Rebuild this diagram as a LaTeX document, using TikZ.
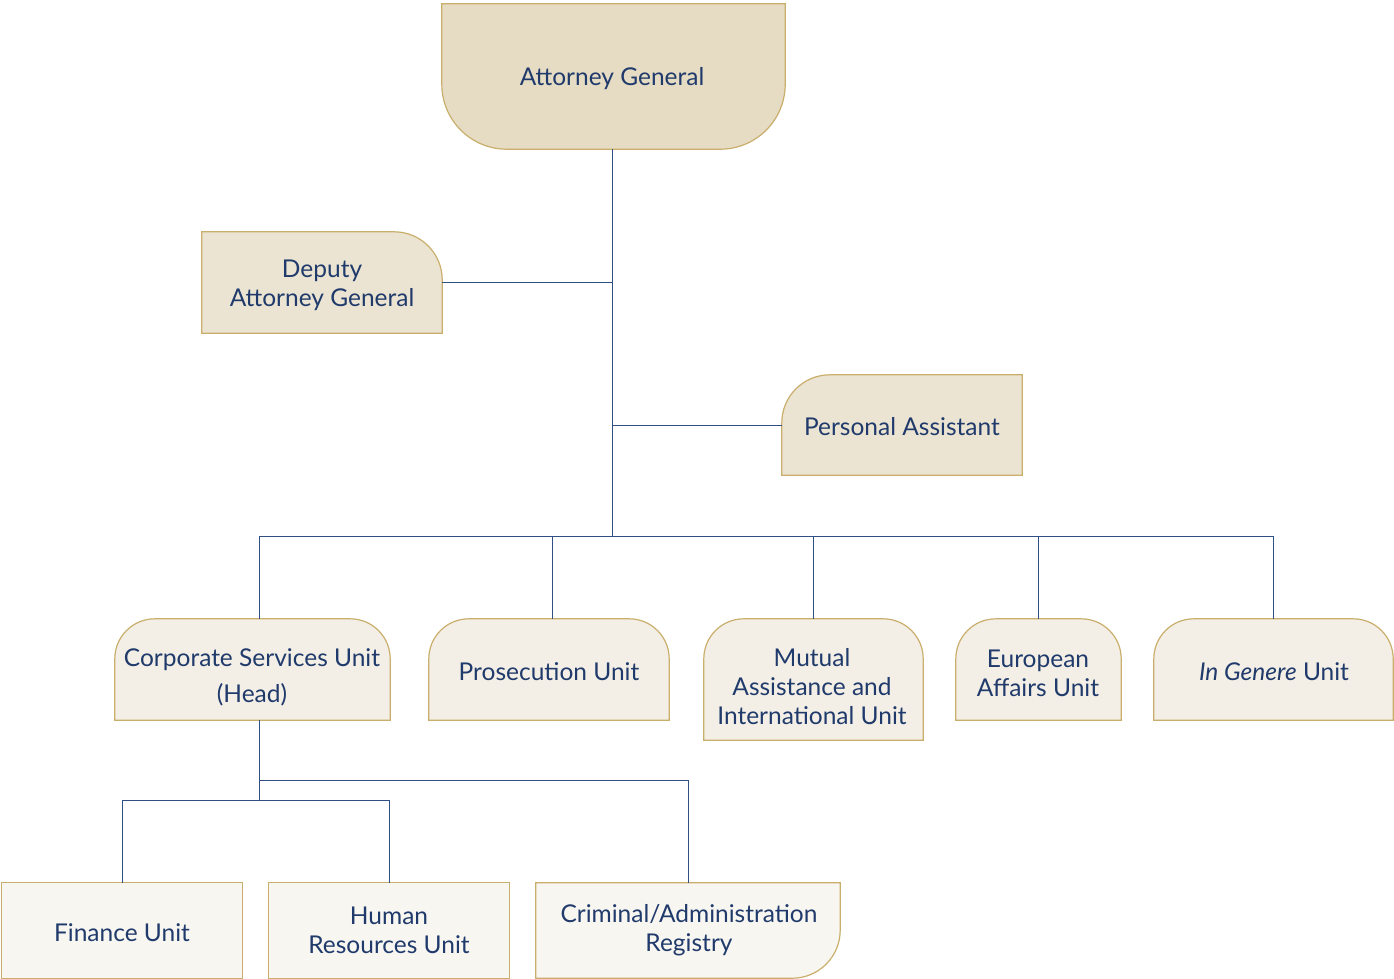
\documentclass[tikz,border=0pt]{standalone}
\usepackage{fontspec}
\setmainfont{Lato}
\usetikzlibrary{backgrounds}
\definecolor{agfill}{HTML}{E6DCC4}
\definecolor{secfill}{HTML}{ECE4D3}
\definecolor{unitfill}{HTML}{F3EFE6}
\definecolor{subfill}{HTML}{F8F6F1}
\definecolor{gold}{HTML}{C9AE6C}
\definecolor{navy}{HTML}{1F3A6B}
\definecolor{wire}{HTML}{2F4F85}
\tikzset{
  box/.style={inner sep=0pt, align=center, text=navy, font=\fontsize{24.5}{29}\selectfont},
  outline/.style={draw=gold, line width=1.2pt},
  wireline/.style={draw=wire, line width=1pt},
  lbl/.style={text=navy, align=center, font=\fontsize{24.5}{29}\selectfont, inner sep=0pt}
}
\begin{document}
\begin{tikzpicture}[x=1pt,y=1pt]
\useasboundingbox (0,0) rectangle (1394,-978);
% nodes (frames)
\node[inner sep=0pt, minimum width=343pt, minimum height=145pt] (ag) at (613.5,-76.5) {};
\node[inner sep=0pt, minimum width=240pt, minimum height=101pt] (dep) at (322,-282.5) {};
\node[inner sep=0pt, minimum width=240pt, minimum height=100pt] (pa) at (902,-425) {};
\node[inner sep=0pt, minimum width=275pt, minimum height=101pt] (csu) at (252.5,-669.5) {};
\node[inner sep=0pt, minimum width=240pt, minimum height=101pt] (pu) at (549,-669.5) {};
\node[inner sep=0pt, minimum width=219pt, minimum height=121pt] (mu) at (813.5,-679.5) {};
\node[inner sep=0pt, minimum width=165pt, minimum height=101pt] (eu) at (1038.5,-669.5) {};
\node[inner sep=0pt, minimum width=239pt, minimum height=101pt] (ig) at (1273.5,-669.5) {};
\node[inner sep=0pt, minimum width=240pt, minimum height=95pt] (fin) at (122,-930.5) {};
\node[inner sep=0pt, minimum width=240pt, minimum height=95pt] (hr) at (389,-930.5) {};
\node[inner sep=0pt, minimum width=304pt, minimum height=95pt] (reg) at (688,-930.5) {};
% labels
\node[lbl] (tag) at (612,-79) {Attorney General};
\node[lbl] (tdep) at (322,-285) {Deputy\\Attorney General};
\node[lbl] (tpa) at (902,-427) {Personal Assistant};
\node[lbl, font=\fontsize{24.5}{36}\selectfont] (tcsu) at (252,-677) {Corporate Services Unit\\(Head)};
\node[lbl] (tpu) at (549,-672) {Prosecution Unit};
\node[lbl] (tmu) at (812,-687) {Mutual\\Assistance and\\International Unit};
\node[lbl] (teu) at (1038,-673) {European\\Affairs Unit};
\node[lbl] (tig) at (1274,-672) {\textit{In Genere} Unit};
\node[lbl] (tfin) at (122,-933) {Finance Unit};
\node[lbl] (thr) at (389,-930) {Human\\Resources Unit};
\node[lbl] (treg) at (689,-930) {Criminal/Administration\\Registry};
% shapes
\begin{scope}[on background layer]
\path[outline, fill=agfill] (ag.north west) -- (ag.north east) -- ([yshift=65pt]ag.south east)
  arc[start angle=0, end angle=-90, radius=65pt] -- ([xshift=65pt]ag.south west)
  arc[start angle=270, end angle=180, radius=65pt] -- cycle;
\path[outline, fill=secfill] (dep.south west) -- (dep.north west) -- ([xshift=-48pt]dep.north east)
  arc[start angle=90, end angle=0, radius=48pt] -- (dep.south east) -- cycle;
\path[outline, fill=secfill] (pa.south east) -- (pa.north east) -- ([xshift=48pt]pa.north west)
  arc[start angle=90, end angle=180, radius=48pt] -- (pa.south west) -- cycle;
\foreach \n in {csu,pu,mu,eu,ig}{
  \path[outline, fill=unitfill] (\n.south west) -- ([yshift=-40pt]\n.north west)
    arc[start angle=180, end angle=90, radius=40pt] -- ([xshift=-40pt]\n.north east)
    arc[start angle=90, end angle=0, radius=40pt] -- (\n.south east) -- cycle;
}
\foreach \n in {fin,hr}{
  \path[outline, fill=subfill] (\n.south west) rectangle (\n.north east);
}
\path[outline, fill=subfill] (reg.south west) -- (reg.north west) -- (reg.north east)
  -- ([yshift=48pt]reg.south east) arc[start angle=0, end angle=-90, radius=48pt] -- cycle;
\end{scope}
% connectors
\coordinate (j) at (612,-536);
\coordinate (c1) at (259.5,-780);
\coordinate (c2) at (259.5,-800);
\draw[wireline] (j |- ag.south) -- (j);
\draw[wireline] (dep.east) -- (dep.east -| j);
\draw[wireline] (pa.west) -- (pa.west -| j);
\draw[wireline] ([xshift=7pt]csu.north) |- (j -| ig.north) -- (ig.north);
\draw[wireline] ([xshift=3pt]pu.north) -- ([xshift=3pt]pu.north |- j);
\draw[wireline] (mu.north) -- (mu.north |- j);
\draw[wireline] (eu.north) -- (eu.north |- j);
\draw[wireline] ([xshift=7pt]csu.south) -- (c2);
\draw[wireline] (c1) -| (reg.north);
\draw[wireline] (fin.north) |- (c2) -| (hr.north);
\end{tikzpicture}
\end{document}
